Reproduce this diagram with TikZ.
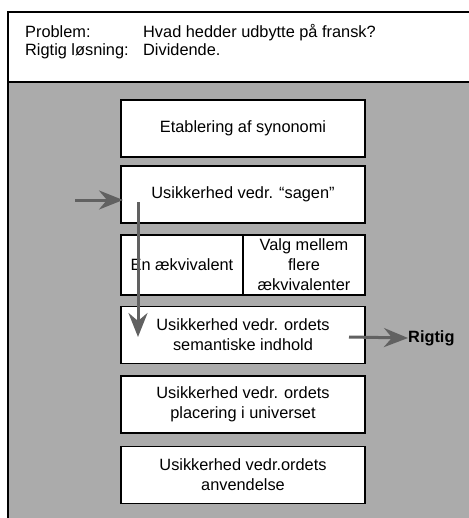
\documentclass[tikz,border=0pt]{standalone}
\usepackage{fontspec}
\setmainfont{Liberation Sans}
\usetikzlibrary{arrows.meta}
\begin{document}
\begin{tikzpicture}[x=1bp,y=-1bp,
  txt/.style={font=\fontsize{16.4}{20}\selectfont, align=center, inner sep=0pt},
  stagebox/.style={draw=black, line width=1.3bp, fill=white, minimum width=244bp, minimum height=57bp, inner sep=0pt, font=\fontsize{16.4}{20}\selectfont, align=center},
  halfbox/.style={stagebox, minimum width=122bp, minimum height=60bp},
  flowarrow/.style={draw=black!62, line width=3bp, -{Stealth[length=24bp,width=19bp,inset=8bp]}}
]
\useasboundingbox (0,0) rectangle (469,518);
% background areas
\fill[white] (8,12) rectangle (469,82);
\fill[black!33] (8,82) rectangle (469,518);
\draw[line width=1.5bp] (469,12) -- (8,12) -- (8,518);
\draw[line width=1.5bp] (8,82) -- (469,82);
% header text
\node[txt, anchor=base west] (plab) at (25,38) {Problem:};
\node[txt, anchor=base west] (ptxt) at (143,38) {Hvad hedder udbytte på fransk?};
\node[txt, anchor=base west] (rlab) at (25,56) {Rigtig løsning:};
\node[txt, anchor=base west] (rtxt) at (143,56) {Dividende.};
% boxes
\node[stagebox] (b1) at (243,128.5) {Etablering af synonomi};
\node[stagebox] (b2) at (243,194.5) {\raisebox{2bp}{Usikkerhed vedr. “sagen”}};
\node[halfbox] (b3a) at (182,265) {En ækvivalent};
\node[halfbox] (b3b) at (304,265) {Valg mellem\\flere\\ækvivalenter};
\node[stagebox] (b4) at (243,335) {Usikkerhed vedr. ordets\\semantiske indhold};
\node[stagebox] (b5) at (243,404.5) {Usikkerhed vedr. ordets\\placering i universet};
\node[stagebox] (b6) at (243,475) {Usikkerhed vedr.ordets\\anvendelse};
\node[txt, anchor=west, font=\fontsize{16.4}{20}\selectfont\bfseries] (rig) at (408,338) {Rigtig};
% arrows
\coordinate (lstart) at (75,200);
\coordinate (lend) at (123,200);
\coordinate (vstart) at (138,202);
\coordinate (vend) at (138,337);
\coordinate (rstart) at (349,337);
\draw[flowarrow] (lstart) -- (lend);
\draw[flowarrow] (vstart) -- (vend);
\draw[flowarrow] (rstart) -- (rig.west);
\end{tikzpicture}
\end{document}
